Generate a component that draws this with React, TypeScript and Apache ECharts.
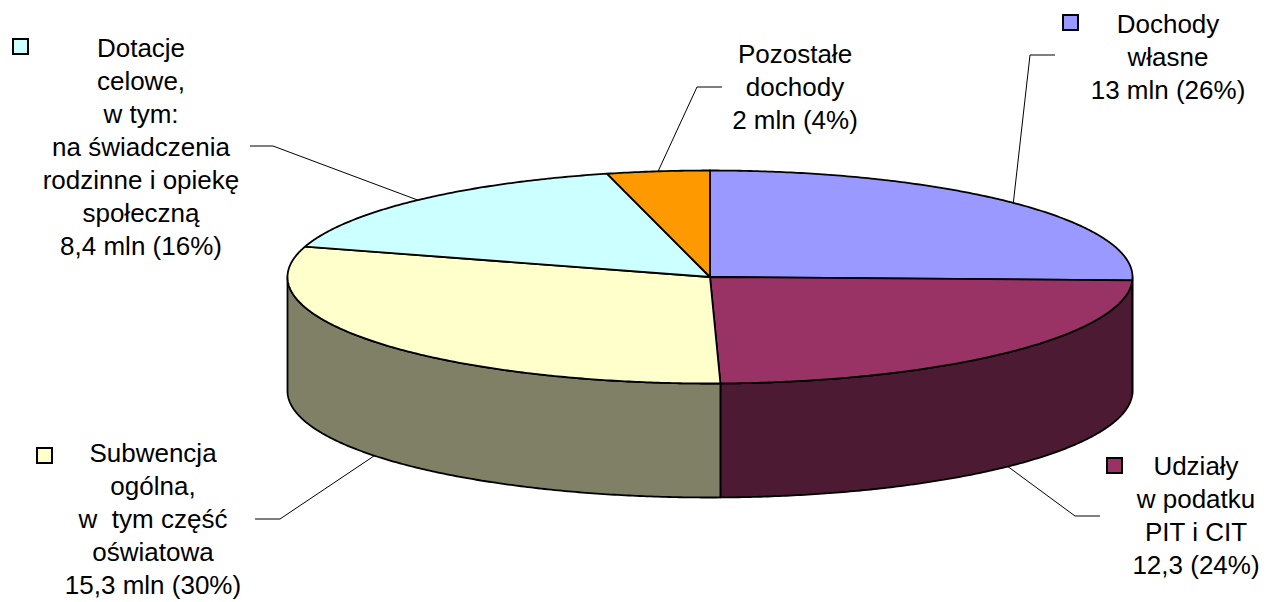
import { useEffect, useRef } from "react";
import * as echarts from "echarts";

// ---- data ----
const categories = [
  "Dochody własne",
  "Udziały w podatku PIT i CIT",
  "Subwencja ogólna",
  "Dotacje celowe",
  "Pozostałe dochody",
];
const values = [13, 12.3, 15.3, 8.4, 2];
const labelLines = [
  ["Dochody", "własne", "13 mln (26%)"],
  ["Udziały", "w podatku", "PIT i CIT", "12,3 (24%)"],
  ["Subwencja", "ogólna,", "w  tym część", "oświatowa", "15,3 mln (30%)"],
  ["Dotacje", "celowe,", "w tym:", "na świadczenia", "rodzinne i opiekę", "społeczną", "8,4 mln (16%)"],
  ["Pozostałe", "dochody", "2 mln (4%)"],
];

// ---- styles ----
const topColors = ["#9999FF", "#993366", "#FFFFCC", "#CCFFFF", "#FF9900"];
const sideColors = ["#4D4D80", "#4D1A33", "#808066", "#668080", "#804D00"];

// ---- layout ----
const PIE = { cx: 710, cy: 277, rx: 422.5, ry: 106.5, depth: 114 };
const LINE_H = 33;
const FONT = '26px "Liberation Sans", Arial, sans-serif';
const labelLayout = [
  { cx: 1168, y0: 24, legend: [1063, 15], leader: [[1055, 55], [1030, 55]] },
  { cx: 1196, y0: 466, legend: [1107, 458], leader: [[1100, 516], [1075, 516]] },
  { cx: 153, y0: 453, legend: [37, 448], leader: [[255, 519], [280, 519]] },
  { cx: 141, y0: 48, legend: [13, 39], leader: [[250, 146], [273, 146]] },
  { cx: 795, y0: 54, legend: null, leader: [[722, 87], [697, 87]] },
];

const total = values.reduce((a, b) => a + b, 0);
const starts: number[] = [];
values.reduce((acc, v, i) => {
  starts[i] = acc;
  return acc + v;
}, 0);

function pt(theta: number, dy = 0): number[] {
  return [PIE.cx + PIE.rx * Math.sin(theta), PIE.cy - PIE.ry * Math.cos(theta) + dy];
}

function arcPoints(a0: number, a1: number, dy = 0): number[][] {
  const pts: number[][] = [];
  const n = Math.max(2, Math.ceil(((a1 - a0) * 180) / Math.PI / 0.5));
  for (let k = 0; k <= n; k++) pts.push(pt(a0 + ((a1 - a0) * k) / n, dy));
  return pts;
}

export default function App() {
  const ref = useRef<HTMLDivElement>(null);
  useEffect(() => {
    if (!ref.current) return;
    const chart = echarts.init(ref.current, undefined, { renderer: "svg" });

    const graphics: any[] = [];
    labelLines.forEach((lines, i) => {
      const L = labelLayout[i];
      lines.forEach((t, j) => {
        graphics.push({
          type: "text",
          silent: true,
          style: {
            text: t,
            x: L.cx,
            y: L.y0 + j * LINE_H,
            textAlign: "center",
            textVerticalAlign: "middle",
            font: FONT,
            fill: "#000",
          },
        });
      });
      if (L.legend) {
        graphics.push({
          type: "rect",
          silent: true,
          shape: { x: L.legend[0], y: L.legend[1], width: 15, height: 15 },
          style: { fill: topColors[i], stroke: "#000", lineWidth: 2 },
        });
      }
    });

    chart.setOption({
      animation: false,
      backgroundColor: "#fff",
      series: [
        {
          type: "custom",
          coordinateSystem: "none",
          silent: true,
          data: values.map((v, i) => ({ name: categories[i], value: [v, starts[i]] })),
          renderItem: (params: any, api: any) => {
            const i = params.dataIndex;
            const v = api.value(0);
            const s = api.value(1);
            const a0 = (s / total) * Math.PI * 2;
            const a1 = ((s + v) / total) * Math.PI * 2;
            const children: any[] = [];
            const f0 = Math.max(a0, Math.PI / 2);
            const f1 = Math.min(a1, (Math.PI * 3) / 2);
            if (f1 > f0) {
              const topEdge = arcPoints(f0, f1);
              const botEdge = arcPoints(f0, f1, PIE.depth).reverse();
              children.push({
                type: "polygon",
                z2: 1,
                shape: { points: topEdge.concat(botEdge) },
                style: { fill: sideColors[i], stroke: "#000", lineWidth: 1.8, lineJoin: "round" },
              });
            }
            children.push({
              type: "polygon",
              z2: 2,
              shape: { points: [[PIE.cx, PIE.cy]].concat(arcPoints(a0, a1)) },
              style: { fill: topColors[i], stroke: "#000", lineWidth: 1.8, lineJoin: "round" },
            });
            const mid = (a0 + a1) / 2;
            const front = mid > Math.PI / 2 && mid < (Math.PI * 3) / 2;
            const anchor = pt(mid, front ? PIE.depth : 0);
            const L = labelLayout[i];
            children.push({
              type: "polyline",
              z2: 3,
              shape: { points: [L.leader[0], L.leader[1], anchor] },
              style: { stroke: "#000", lineWidth: 1, fill: null },
            });
            return { type: "group", children };
          },
        },
      ],
      graphic: graphics,
    });
    return () => chart.dispose();
  }, []);
  return (
    <div
      ref={ref}
      style={{ position: "absolute", left: 0, top: 0, width: 1276, height: 602, background: "#fff" }}
    />
  );
}
